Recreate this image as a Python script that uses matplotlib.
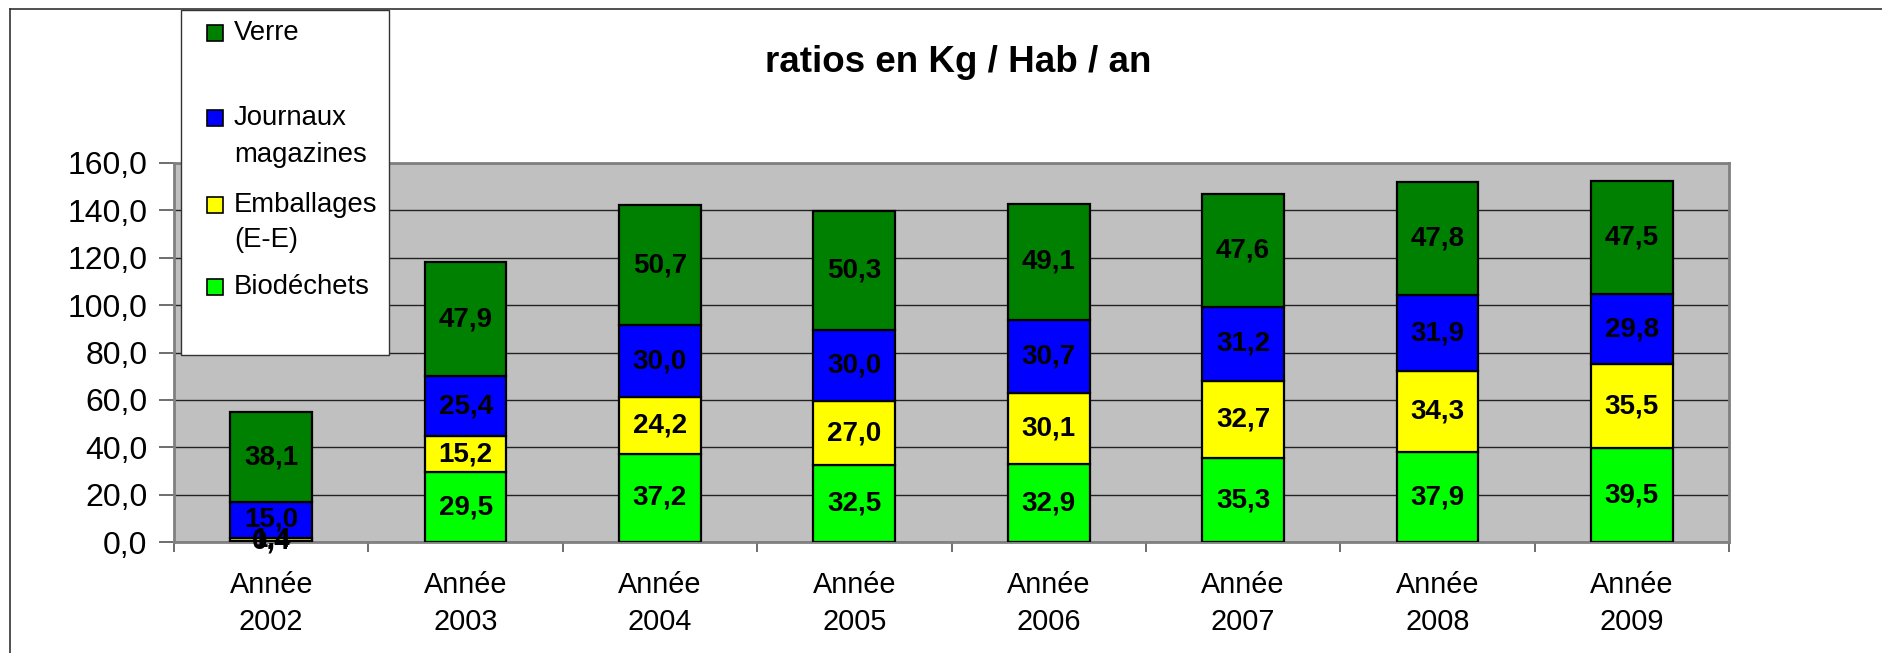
import matplotlib
matplotlib.use("Agg")
import matplotlib.pyplot as plt
from matplotlib.patches import Rectangle
import numpy as np

plt.rcParams['font.family'] = ['Liberation Sans', 'DejaVu Sans']

# data
years = ["Année\n2002", "Année\n2003", "Année\n2004", "Année\n2005",
         "Année\n2006", "Année\n2007", "Année\n2008", "Année\n2009"]
biodechets = [0.4, 29.5, 37.2, 32.5, 32.9, 35.3, 37.9, 39.5]
emballages = [1.4, 15.2, 24.2, 27.0, 30.1, 32.7, 34.3, 35.5]
journaux = [15.0, 25.4, 30.0, 30.0, 30.7, 31.2, 31.9, 29.8]
verre = [38.1, 47.9, 50.7, 50.3, 49.1, 47.6, 47.8, 47.5]

series = [("Biodéchets", biodechets, "#00FF00"),
          ("Emballages\n(E-E)", emballages, "#FFFF00"),
          ("Journaux\nmagazines", journaux, "#0000FF"),
          ("Verre", verre, "#008000")]

W, H = 1883, 653
fig = plt.figure(figsize=(W / 100, H / 100), dpi=100)
ax = fig.add_axes([174 / W, 1 - 542 / H, (1729 - 174) / W, (542 - 163) / H])
ax.set_facecolor("#C0C0C0")

x = np.arange(len(years))
bottom = np.zeros(len(years))
for name, vals, col in series:
    vals = np.array(vals)
    ax.bar(x, vals, 0.42, bottom=bottom, color=col, edgecolor="black",
           linewidth=1.6, zorder=3)
    for xi, b, v in zip(x, bottom, vals):
        ax.text(xi, b + v / 2, f"{v:.1f}".replace(".", ","), ha="center",
                va="center", fontsize=20, fontweight="bold", zorder=4)
    bottom += vals

ax.set_xlim(-0.5, len(years) - 0.5)
ax.set_ylim(0, 160)
ax.set_yticks(np.arange(0, 161, 20))
ax.set_yticklabels([f"{v:.1f}".replace(".", ",") for v in np.arange(0, 161, 20)],
                   fontsize=23)
ax.yaxis.grid(True, color="#222222", linewidth=1.0, zorder=1)
ax.set_axisbelow(True)

ax.set_xticks(np.arange(-0.5, len(years), 1.0))
ax.set_xticklabels([])
ax.set_xticks(x, minor=True)
ax.set_xticklabels(years, minor=True, fontsize=20.8, linespacing=1.4)
ax.tick_params(axis="x", which="minor", length=0, pad=21)
ax.tick_params(axis="x", which="major", length=7, width=1.2, color="#555555")
ax.tick_params(axis="y", length=11, width=1.2, color="#555555", pad=8)

for s in ax.spines.values():
    s.set_color("#808080")
    s.set_linewidth(2)

# title
fig.text(958 / W, 1 - 62 / H, "ratios en Kg / Hab / an", ha="center",
         va="center", fontsize=26.5, fontweight="bold")

# outer chart border (left and top visible)
fig.add_artist(plt.Line2D([10 / W, 10 / W], [0, 1 - 9 / H], color="#333333",
                          linewidth=1.2, transform=fig.transFigure))
fig.add_artist(plt.Line2D([10 / W, 1], [1 - 9 / H, 1 - 9 / H], color="#333333",
                          linewidth=1.2, transform=fig.transFigure))

# legend box
fig.add_artist(Rectangle((181 / W, 1 - 355 / H), (389 - 181) / W, (355 - 10) / H,
                         transform=fig.transFigure, facecolor="white",
                         edgecolor="#333333", linewidth=1.0, zorder=5))
legend_items = [("Verre", "#008000", 33, [33]),
                ("Journaux\nmagazines", "#0000FF", 118, [118, 155]),
                ("Emballages\n(E-E)", "#FFFF00", 205, [205, 240]),
                ("Biodéchets", "#00FF00", 287, [287])]
for label, col, ymark, ylines in legend_items:
    fig.add_artist(Rectangle((207 / W, 1 - (ymark + 8) / H), 16 / W, 16 / H,
                             transform=fig.transFigure, facecolor=col,
                             edgecolor="black", linewidth=1.2, zorder=6))
    for line, yl in zip(label.split("\n"), ylines):
        fig.text(234 / W, 1 - yl / H, line, ha="left", va="center",
                 fontsize=19.8, zorder=6)

fig.savefig("out.png", dpi=100)
